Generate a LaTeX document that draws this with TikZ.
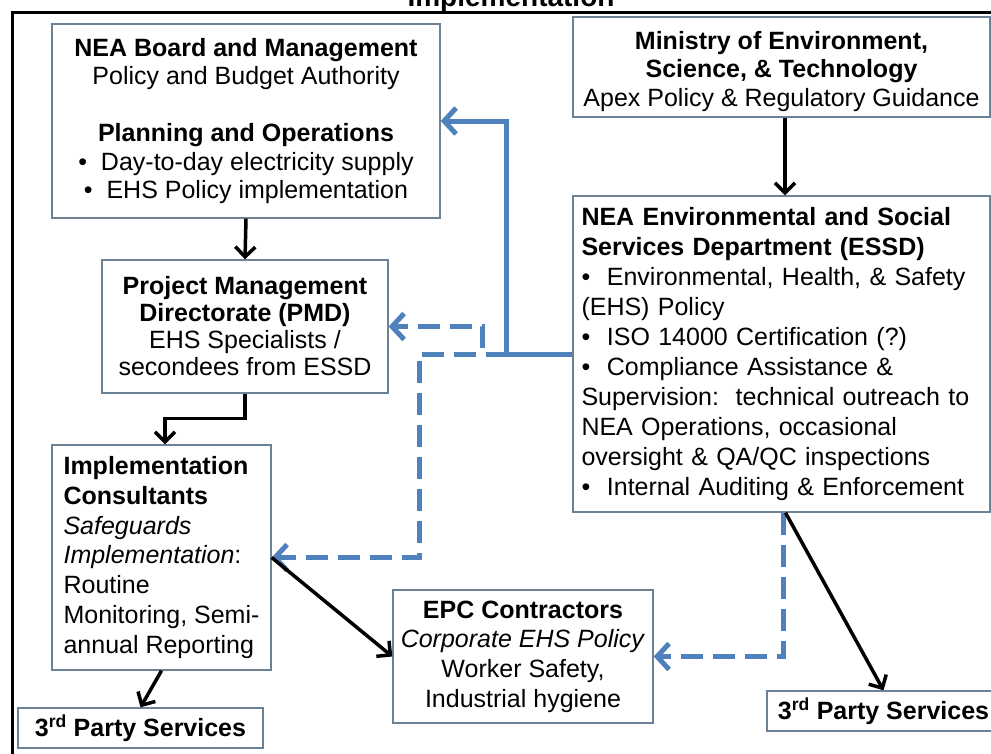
\documentclass[tikz,border=0pt]{standalone}
\usepackage{fontspec}
\setmainfont{Liberation Sans}
\usetikzlibrary{arrows.meta,calc}
\definecolor{boxc}{RGB}{110,130,150}
\definecolor{nblue}{RGB}{79,129,189}
\begin{document}
\begin{tikzpicture}[x=1pt,y=-1pt,
 box/.style={draw=boxc, line width=1.4pt, fill=white, inner sep=0pt, align=center},
 blk/.style={line width=3.5pt, -{Straight Barb[length=10pt,width=20pt]}},
 bl/.style={draw=nblue, line width=5pt, -{Straight Barb[length=12pt,width=26pt]}},
 bld/.style={bl, dash pattern=on 22pt off 10pt}]
\useasboundingbox (0,0) rectangle (991,753);
\clip (0,0) rectangle (991,753);
\node[anchor=base, font=\bfseries\fontsize{28}{30}\selectfont] (title) at (511,6) {Implementation};
\draw[line width=3pt] (12,12) rectangle (1010,780);

\node[box, minimum width=388, minimum height=194, font=\fontsize{25}{28.5}\selectfont] (board) at (246,121)
 {\textbf{NEA Board and Management}\\Policy and Budget Authority\\[28.5pt]
  \textbf{Planning and Operations}\\•\ \ Day-to-day electricity supply\\•\ \ EHS Policy implementation};
\node[box, minimum width=417, minimum height=100, font=\fontsize{25}{28.5}\selectfont] (ministry) at (781.5,67)
 {\rule{0pt}{27pt}\textbf{Ministry of Environment,}\\\textbf{Science, \& Technology}\\Apex Policy \& Regulatory Guidance};
\node[box, minimum width=417, minimum height=316, text width=400, align=left, font=\fontsize{25}{30}\selectfont] (essd) at (781.5,354)
 {\textbf{NEA Environmental and Social}\\
  \textbf{Services Department (ESSD)}\\
  •\ \ Environmental, Health, \& Safety\\
  (EHS) Policy\\
  •\ \ ISO 14000 Certification (?)\\
  •\ \ Compliance Assistance \&\\
  Supervision:\ \ technical outreach to\\
  NEA Operations, occasional\\
  oversight \& QA/QC inspections\\
  •\ \ Internal Auditing \& Enforcement};
\node[box, minimum width=286, minimum height=133, font=\fontsize{25}{27}\selectfont] (pmd) at (245,326.5)
 {\textbf{Project Management}\\\textbf{Directorate (PMD)}\\EHS Specialists /\\secondees from ESSD};
\node[box, minimum width=219, minimum height=225, align=left, font=\fontsize{25}{29.7}\selectfont] (ic) at (161.5,557.5)
 {\textbf{Implementation}\\\textbf{Consultants}\\\textit{Safeguards}\\\textit{Implementation}:\\Routine\\Monitoring, Semi-\\annual Reporting};
\node[box, minimum width=260, minimum height=133, font=\fontsize{25}{29.7}\selectfont] (epc) at (523,656.5)
 {\textbf{EPC Contractors}\\\textit{Corporate EHS Policy}\\Worker Safety,\\Industrial hygiene};
\node[box, minimum width=245, minimum height=40, font=\bfseries\fontsize{25}{28}\selectfont] (tpl) at (140.5,728)
 {3\textsuperscript{rd} Party Services};
\node[box, minimum width=233, minimum height=40, font=\bfseries\fontsize{25}{28}\selectfont] (tpr) at (883.5,711)
 {3\textsuperscript{rd} Party Services};

\draw[blk] (board.south) -- (pmd.north);
\draw[blk] ($(ministry.south)+(3.5,0)$) -- ($(essd.north)+(3.5,0)$);
\draw[blk] (pmd.south) -- ++(0,25) -| ($(ic.north)+(3.5,0)$);
\draw[bld] (essd.west) -- ++(-90,0) |- (pmd.east);
\draw[bld] (essd.west) -- ++(-153,0) |- (ic.east);
\draw[bl] (essd.west) -- ++(-66,0) |- (board.east);
\draw[blk] (ic.east) -- (epc.west);
\draw[bld] ($(essd.south)+(2,0)$) |- (epc.east);
\draw[blk] ($(essd.south)+(4,0)$) -- (tpr.north);
\draw[blk] (ic.south) -- (tpl.north);
\end{tikzpicture}
\end{document}
